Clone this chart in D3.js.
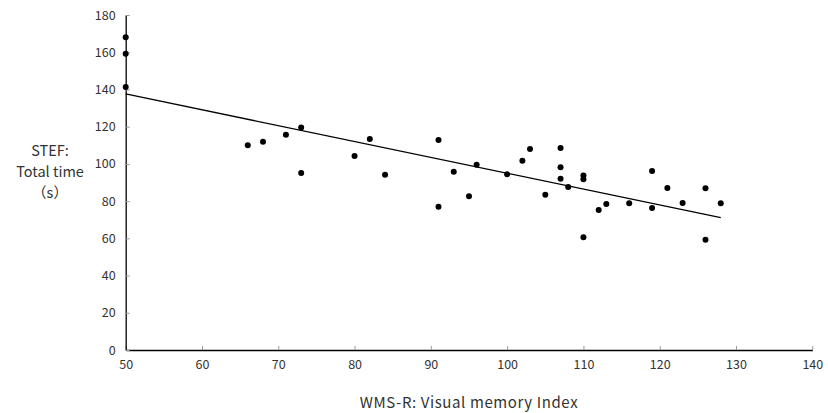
<!DOCTYPE html>
<html><head><meta charset="utf-8">
<script src="https://cdn.jsdelivr.net/npm/d3@7"></script>
<style>
html,body{margin:0;padding:0;background:#fff;}
text{font-family:"Noto Sans CJK JP","Liberation Sans",sans-serif;fill:#333;}
</style></head>
<body><svg id="c" width="828" height="413"></svg>
<script>
const wmsX = [50,50,50,66,68,71,73,73,80,82,84,91,91,93,95,96,100,102,103,105,107,107,107,108,110,110,110,112,113,116,119,119,121,123,126,126,128];
const stefY = [168.0,159.2,141.3,110.0,111.9,115.7,119.5,95.1,104.2,113.4,94.2,112.8,77.0,95.8,82.6,99.6,94.4,101.7,108.0,83.4,108.5,98.2,92.0,87.6,93.7,91.7,60.6,75.2,78.5,78.8,96.2,76.3,87.0,79.0,86.9,59.3,78.8];
const trendX = [50,128];
const trendY = [137.6,71.1];
const xTicks = [50,60,70,80,90,100,110,120,130,140];
const yTicks = [0,20,40,60,80,100,120,140,160,180];
const xTitle = "WMS-R: Visual memory Index";
const yTitle = ["STEF:","Total time","（s）"];

const svg = d3.select("#c");
const x = d3.scaleLinear().domain([50,140]).range([125.7,812.3]);
const y = d3.scaleLinear().domain([0,180]).range([350,15]);

const gx = svg.append("g").attr("transform","translate(0,350)")
  .call(d3.axisBottom(x).tickValues(xTicks).tickSizeInner(-4).tickSizeOuter(0).tickPadding(10));
gx.select(".domain").attr("stroke","#000").attr("stroke-width",1.3);
gx.selectAll(".tick line").attr("stroke","#999");
gx.selectAll("text").attr("font-size",12.5).attr("fill","#333");

const gy = svg.append("g").attr("transform","translate(125.7,0)")
  .call(d3.axisLeft(y).tickValues(yTicks).tickSizeInner(-4).tickSizeOuter(0).tickPadding(10));
gy.select(".domain").attr("stroke","#000").attr("stroke-width",1.3);
gy.selectAll(".tick line").attr("stroke","#999");
gy.selectAll("text").attr("font-size",12.5).attr("fill","#333");

svg.append("line")
  .attr("x1",x(trendX[0])).attr("y1",y(trendY[0]))
  .attr("x2",x(trendX[1])).attr("y2",y(trendY[1]))
  .attr("stroke","#000").attr("stroke-width",1.3);

svg.append("g").selectAll("circle").data(wmsX.map((v,i)=>[v,stefY[i]])).enter()
  .append("circle").attr("cx",d=>x(d[0])).attr("cy",d=>y(d[1])).attr("r",3).attr("fill","#000");

svg.append("text").attr("x",469).attr("y",408).attr("text-anchor","middle")
  .attr("font-size",15).attr("letter-spacing",0.6).text(xTitle);

svg.append("g").selectAll("text").data(yTitle).enter().append("text")
  .attr("x",50).attr("y",(d,i)=>156+i*21).attr("text-anchor","middle")
  .attr("font-size",14.5).text(d=>d);
</script></body></html>
